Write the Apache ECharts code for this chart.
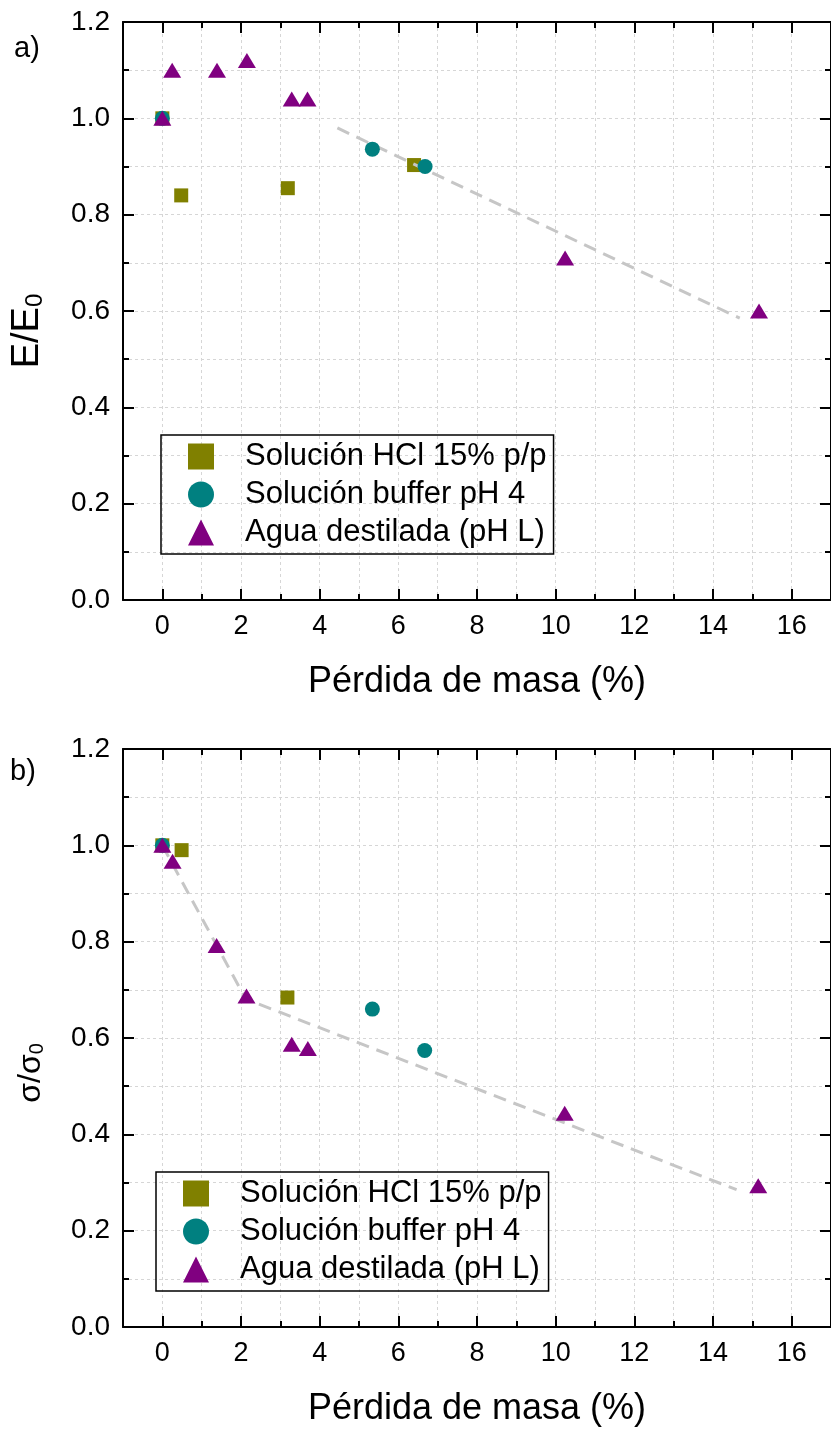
<!DOCTYPE html>
<html><head><meta charset="utf-8">
<script src="https://cdn.jsdelivr.net/npm/echarts@6/dist/echarts.min.js"></script>
<style>html,body{margin:0;padding:0;background:#fff}#c{width:831px;height:1429px}</style>
</head><body><div id="c"></div>
<script>
// ---------- data ----------
const seriesNames = ['Solución HCl 15% p/p', 'Solución buffer pH 4', 'Agua destilada (pH L)'];
const xMajorTicks = [0, 2, 4, 6, 8, 10, 12, 14, 16];
const yMajorTicks = [0, 0.2, 0.4, 0.6, 0.8, 1.0, 1.2];
const xAxisTitle = 'Pérdida de masa (%)';

// panel a) E/E0
const aHCl    = [[0, 1.0], [0.48, 0.84], [3.19, 0.855], [6.4, 0.903]];
const aBuffer = [[0, 1.0], [5.34, 0.936], [6.68, 0.90]];
const aWater  = [[0, 1.0], [0.25, 1.10], [1.39, 1.10], [2.15, 1.12], [3.29, 1.04], [3.69, 1.04], [10.24, 0.71], [15.17, 0.60]];
const aTrend  = [[4.45, 0.98], [14.68, 0.585]];

// panel b) sigma/sigma0
const bHCl    = [[0, 1.0], [0.49, 0.99], [3.18, 0.684]];
const bBuffer = [[0, 1.0], [5.34, 0.66], [6.67, 0.574]];
const bWater  = [[0, 1.0], [0.26, 0.967], [1.38, 0.792], [2.14, 0.687], [3.29, 0.587], [3.70, 0.578], [10.23, 0.444], [15.15, 0.293]];
const bTrend  = [[0, 1.0], [2.12, 0.681], [14.6, 0.285]];

// ---------- chart ----------
const FONT = "'Liberation Sans', Arial, sans-serif";
const colors = ['#808000', '#008080', '#800080'];
const symbols = ['rect', 'circle', 'triangle'];
const symSizes = [14, 15, [18, 15]];

const grids = [
  {left: 123, top: 22, width: 713, height: 578},
  {left: 123, top: 749, width: 713, height: 578}
];

const xAxes = [], yAxes = [];
const yNames = ['{a|E/E}{s|0}', '{a|σ/σ}{s|0}'];
const yNameSizes = [38, 32];
const yNameShift = [40, 70];

grids.forEach((g, gi) => {
  const base = {type: 'value', gridIndex: gi, min: -1, max: 17, interval: 1, offset: 0};
  const line = {show: true, onZero: false, lineStyle: {color: '#000', width: 2}};
  const noLine = {show: false, onZero: false};
  ['bottom', 'top'].forEach(pos => {
    xAxes.push(Object.assign({}, base, {
      position: pos, axisLine: line,
      axisTick: {show: true, inside: true, length: 6, lineStyle: {color: '#000', width: 2}},
      axisLabel: pos === 'bottom' ? {show: true, customValues: xMajorTicks, fontSize: 27, fontFamily: FONT, color: '#000', margin: 13} : {show: false},
      splitLine: pos === 'bottom' ? {show: true, lineStyle: {type: [3, 3], color: '#d6d6d6', width: 1}} : {show: false},
      name: pos === 'bottom' ? xAxisTitle : '',
      nameLocation: 'middle', nameGap: 64,
      nameTextStyle: {fontSize: 36, fontFamily: FONT, color: '#000'}
    }));
    xAxes.push(Object.assign({}, base, {
      position: pos, axisLine: noLine,
      axisTick: {show: true, inside: true, length: 11, customValues: xMajorTicks, lineStyle: {color: '#000', width: 2}},
      axisLabel: {show: false}, splitLine: {show: false}
    }));
  });
  const ybase = {type: 'value', gridIndex: gi, min: 0, max: 1.2, interval: 0.1, offset: 0};
  ['left', 'right'].forEach(pos => {
    yAxes.push(Object.assign({}, ybase, {
      position: pos, axisLine: line,
      axisTick: {show: true, inside: true, length: 6, lineStyle: {color: '#000', width: 2}},
      axisLabel: pos === 'left' ? {show: true, customValues: yMajorTicks, formatter: v => v.toFixed(1), fontSize: 28, fontFamily: FONT, color: '#000', margin: 13} : {show: false},
      splitLine: pos === 'left' ? {show: true, lineStyle: {type: [3, 3], color: '#d6d6d6', width: 1}} : {show: false},
      name: pos === 'left' ? yNames[gi] : '',
      nameLocation: 'middle', nameGap: 76, nameRotate: 90,
      nameTextStyle: {
        color: '#000', fontFamily: FONT, padding: [0, yNameShift[gi], 0, 0],
        rich: {
          a: {fontSize: yNameSizes[gi], fontFamily: FONT, color: '#000'},
          s: {fontSize: Math.round(yNameSizes[gi] * 0.62), fontFamily: FONT, color: '#000', verticalAlign: 'bottom'}
        }
      }
    }));
    yAxes.push(Object.assign({}, ybase, {
      position: pos, axisLine: noLine,
      axisTick: {show: true, inside: true, length: 11, customValues: yMajorTicks, lineStyle: {color: '#000', width: 2}},
      axisLabel: {show: false}, splitLine: {show: false}
    }));
  });
});

const panels = [
  {hcl: aHCl, buf: aBuffer, wat: aWater, trend: aTrend},
  {hcl: bHCl, buf: bBuffer, wat: bWater, trend: bTrend}
];
const series = [];
panels.forEach((p, gi) => {
  const xi = gi * 4, yi = gi * 4;
  [p.hcl, p.buf, p.wat].forEach((d, si) => {
    series.push({
      type: 'scatter', name: seriesNames[si], xAxisIndex: xi, yAxisIndex: yi,
      data: d, symbol: symbols[si], symbolSize: symSizes[si],
      itemStyle: {color: colors[si], opacity: 1},
      z: si === 0 ? 2 : si + 3, silent: true
    });
  });
  series.push({
    type: 'line', xAxisIndex: xi, yAxisIndex: yi, data: p.trend,
    symbol: 'none', lineStyle: {color: '#c6c6c6', width: 3, type: [13, 8]},
    z: 3, silent: true
  });
});

const legendCommon = {
  orient: 'vertical', data: seriesNames, selectedMode: false,
  itemWidth: 26, itemHeight: 26, itemGap: 7,
  borderColor: '#000', borderWidth: 1.5, borderRadius: 0,
  textStyle: {fontSize: 31, fontFamily: FONT, color: '#000', padding: [0, 0, 0, 26]}
};

const chart = echarts.init(document.getElementById('c'), null, {renderer: 'canvas'});
chart.setOption({
  animation: false,
  backgroundColor: '#fff',
  grid: grids,
  xAxis: xAxes,
  yAxis: yAxes,
  legend: [
    Object.assign({}, legendCommon, {left: 161, top: 435, padding: [6, 7, 6, 27]}),
    Object.assign({}, legendCommon, {left: 156, top: 1172, padding: [6, 7, 6, 27]})
  ],
  graphic: [
    {type: 'text', left: 14, top: 34, style: {text: 'a)', fontSize: 29, fontFamily: FONT, fill: '#000'}},
    {type: 'text', left: 10, top: 757, style: {text: 'b)', fontSize: 29, fontFamily: FONT, fill: '#000'}}
  ],
  series: series
});
</script>
</body></html>
